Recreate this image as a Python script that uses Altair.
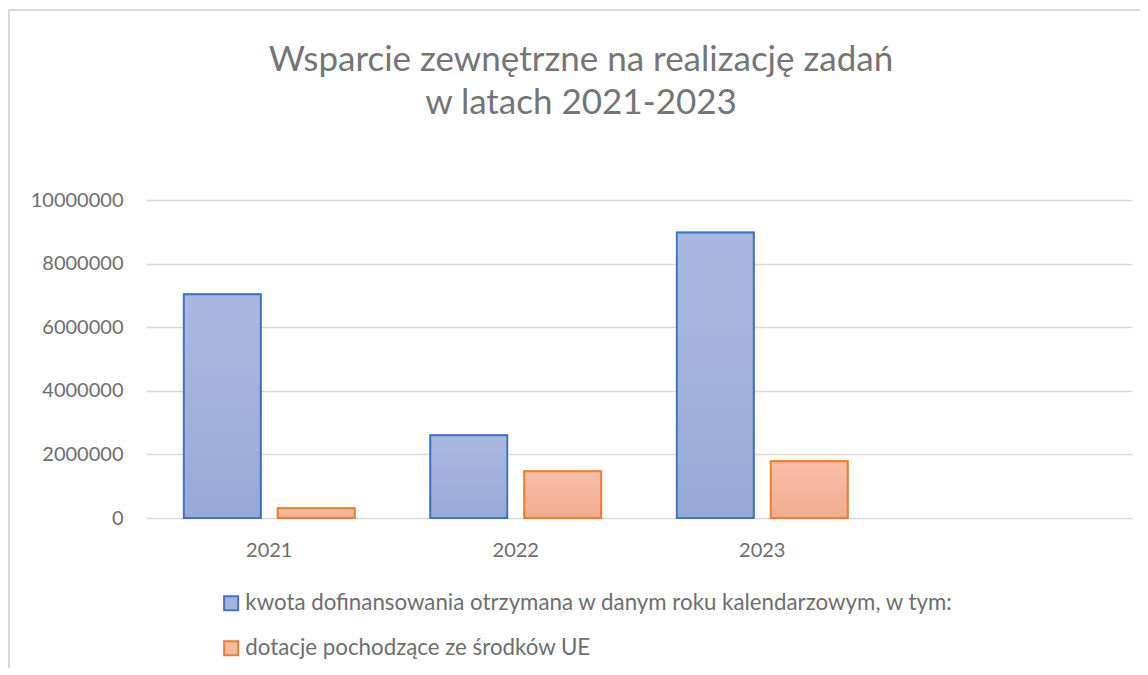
import altair as alt
import pandas as pd

years = ["2021", "2022", "2023"]
series_names = [
    "kwota dofinansowania otrzymana w danym roku kalendarzowym, w tym:",
    "dotacje pochodzące ze środków UE",
]
kwota = [7040000, 2600000, 8980000]
dotacje = [305000, 1470000, 1785000]
y_ticks = [0, 2000000, 4000000, 6000000, 8000000, 10000000]
title_lines = ["Wsparcie zewnętrzne na realizację zadań", "w latach 2021-2023"]

rows = []
for i, y in enumerate(years):
    rows.append({"year": y, "series": series_names[0], "value": kwota[i]})
    rows.append({"year": y, "series": series_names[1], "value": dotacje[i]})
df = pd.DataFrame(rows)

FONT = "Lato"
TXT = "#6e6e6e"
W, H = 986, 318

x_domain = years + ["_"]
xs = alt.X("year:N", scale=alt.Scale(domain=x_domain, paddingInner=0, paddingOuter=0),
           axis=alt.Axis(title=None, domain=False, ticks=False, labelPadding=22, labelAngle=0,
                         labelExpr="datum.label == '_' ? '' : datum.label"))
xo = alt.XOffset("series:N", scale=alt.Scale(domain=series_names, paddingInner=0.181, paddingOuter=0.4026))
ys = alt.Y("value:Q", scale=alt.Scale(domain=[0, 10000000], nice=False),
           axis=alt.Axis(title=None, values=y_ticks, format="d", domain=False, ticks=False,
                         labelPadding=23, gridColor="#d9d9d9", gridWidth=1.5))

base = alt.Chart(df)

def make_legend():
    return alt.Legend(title=None, orient="none", legendX=74, legendY=392,
                      direction="vertical", symbolType="square", symbolSize=196,
                      symbolStrokeWidth=2, labelFontSize=22.3, labelFont=FONT,
                      labelColor=TXT, labelLimit=1000, rowPadding=22, labelOffset=3)

legend_layer = base.mark_bar(strokeWidth=1.5).encode(
    x=xs, xOffset=xo, y=ys,
    fill=alt.Fill("series:N", scale=alt.Scale(domain=series_names, range=["#a5b4df", "#f5b9a0"]),
                  legend=make_legend()),
    stroke=alt.Stroke("series:N", scale=alt.Scale(domain=series_names, range=["#4472c4", "#ed7d31"]),
                      legend=make_legend()),
)

def grad(top, bottom):
    return {"gradient": "linear", "x1": 0, "y1": 0, "x2": 0, "y2": 1,
            "stops": [{"offset": 0, "color": top}, {"offset": 1, "color": bottom}]}

blue_layer = base.transform_filter(alt.datum.series == series_names[0]).mark_bar(
    fill=grad("#abb9e1", "#97aad7"), stroke="#4472c4", strokeWidth=2
).encode(x=xs, xOffset=xo, y=ys)

orange_layer = base.transform_filter(alt.datum.series == series_names[1]).mark_bar(
    fill=grad("#f7bfa7", "#f2ac8f"), stroke="#ed7d31", strokeWidth=2
).encode(x=xs, xOffset=xo, y=ys)

one = pd.DataFrame({"k": [0]})
title1 = alt.Chart(one).mark_text(text=title_lines[0], font=FONT, fontSize=35, color="#757575",
                                   align="center", baseline="alphabetic").encode(
    x=alt.value(435), y=alt.value(-129))
title2 = alt.Chart(one).mark_text(text=title_lines[1], font=FONT, fontSize=35, color="#757575",
                                   align="center", baseline="alphabetic").encode(
    x=alt.value(435), y=alt.value(-86))

border_top = alt.Chart(one).mark_rule(color="#d9d9d9", strokeWidth=2).encode(
    x=alt.value(-137), x2=alt.value(W + 20), y=alt.value(-190))
border_left = alt.Chart(one).mark_rule(color="#d9d9d9", strokeWidth=2).encode(
    x=alt.value(-137), y=alt.value(-191), y2=alt.value(H + 160))

chart = alt.layer(border_top, border_left, legend_layer, blue_layer, orange_layer, title1, title2).properties(
    width=W, height=H,
    autosize=alt.AutoSizeParams(type="none"),
    padding={"left": 138, "top": 192, "right": 8, "bottom": 150},
).configure_view(stroke=None).configure_axis(
    labelFont=FONT, labelFontSize=20, labelColor=TXT
).configure_axisX(grid=False)

chart.save("out.html", embed_options={"renderer": "svg", "actions": False})
